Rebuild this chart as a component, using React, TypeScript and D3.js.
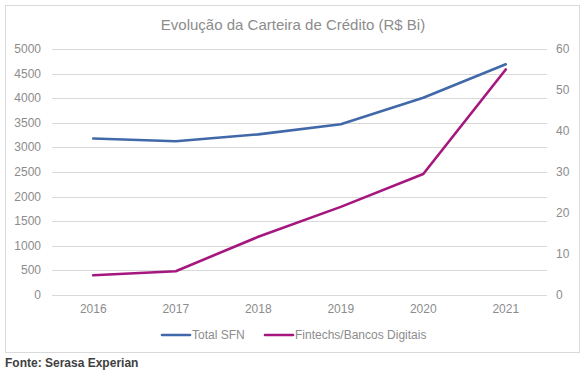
import React from "react";
import * as d3 from "d3";

const years = ["2016", "2017", "2018", "2019", "2020", "2021"];
const totalSFN = [3180, 3125, 3265, 3470, 4010, 4690];
const fintechs = [4.8, 5.8, 14.2, 21.5, 29.5, 55];
const leftTicks = [0, 500, 1000, 1500, 2000, 2500, 3000, 3500, 4000, 4500, 5000];
const rightTicks = [0, 10, 20, 30, 40, 50, 60];
const seriesNames = ["Total SFN", "Fintechs/Bancos Digitais"];
const colors = ["#4169A9", "#A5177F"];

const W = 587, H = 375;
const plot = { left: 52, right: 547, top: 49, bottom: 295 };

export default function App() {
  const x = d3.scaleBand<string>().domain(years).range([plot.left, plot.right]);
  const yL = d3.scaleLinear().domain([0, 5000]).range([plot.bottom, plot.top]);
  const yR = d3.scaleLinear().domain([0, 60]).range([plot.bottom, plot.top]);
  const cx = (d: string) => (x(d) as number) + x.bandwidth() / 2;
  const lineL = d3.line<number>().x((_, i) => cx(years[i])).y((d) => yL(d));
  const lineR = d3.line<number>().x((_, i) => cx(years[i])).y((d) => yR(d));
  const font = "'Liberation Sans', Arial, sans-serif";
  const tickColor = "#8C8C8C";
  return (
    <svg width={W} height={H} style={{ position: "absolute", left: 0, top: 0, fontFamily: font }}>
      <rect x={0} y={0} width={W} height={H} fill="#fff" />
      <rect x={5.5} y={5.5} width={574} height={347} fill="#fff" stroke="#D9D9D9" strokeWidth={1} />
      <text x={293} y={30} textAnchor="middle" fontSize={15} fill="#8C8C8C">
        Evolução da Carteira de Crédito (R$ Bi)
      </text>
      {leftTicks.map((t) => (
        <g key={"l" + t}>
          <line x1={plot.left} x2={plot.right} y1={Math.round(yL(t)) + 0.5} y2={Math.round(yL(t)) + 0.5} stroke="#D9D9D9" strokeWidth={1} />
          <text x={41} y={yL(t) + 4} textAnchor="end" fontSize={12} fill={tickColor}>{t}</text>
        </g>
      ))}
      {rightTicks.map((t) => (
        <text key={"r" + t} x={556} y={yR(t) + 4} textAnchor="start" fontSize={12} fill={tickColor}>{t}</text>
      ))}
      {years.map((yr) => (
        <text key={yr} x={cx(yr)} y={313} textAnchor="middle" fontSize={12} fill={tickColor}>{yr}</text>
      ))}
      <path d={lineL(totalSFN) || ""} fill="none" stroke={colors[0]} strokeWidth={2.6} strokeLinejoin="round" strokeLinecap="round" />
      <path d={lineR(fintechs) || ""} fill="none" stroke={colors[1]} strokeWidth={2.6} strokeLinejoin="round" strokeLinecap="round" />
      <g>
        <line x1={162} x2={190} y1={335} y2={335} stroke={colors[0]} strokeWidth={2.6} strokeLinecap="round" />
        <text x={192} y={339} fontSize={12} fill={tickColor}>{seriesNames[0]}</text>
        <line x1={265} x2={293} y1={335} y2={335} stroke={colors[1]} strokeWidth={2.6} strokeLinecap="round" />
        <text x={295} y={339} fontSize={12} fill={tickColor}>{seriesNames[1]}</text>
      </g>
      <text x={5} y={367} fontSize={12} fontWeight="bold" fill="#404040">Fonte: Serasa Experian</text>
    </svg>
  );
}
